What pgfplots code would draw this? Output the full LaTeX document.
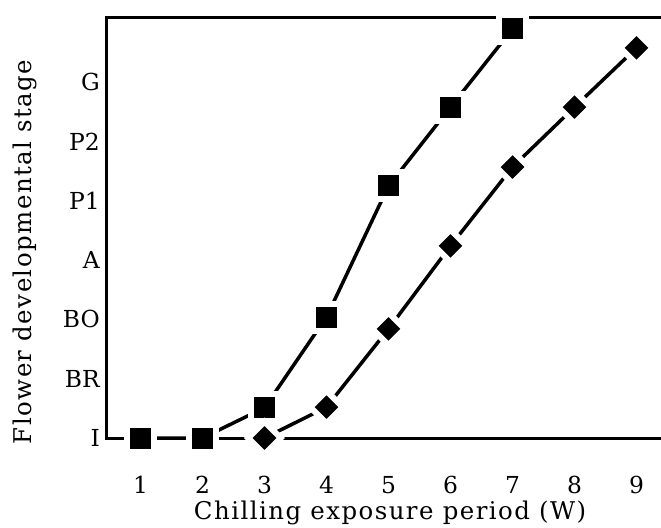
\documentclass[border=0pt]{standalone}
\usepackage{fontspec}
\setmainfont{DejaVu Serif}
\newfontfamily\labelfont[LetterSpace=6]{DejaVu Serif}
\usepackage{pgfplots}
\pgfplotsset{compat=1.18}
\begin{document}
\begin{tikzpicture}
\begin{axis}[
 at={(0,0)}, anchor=south west,
 scale only axis, width=554bp, height=421bp,
 xmin=0.46, xmax=9.395, ymin=0, ymax=7.1,
 axis line style={draw=none},
 tick style={draw=none},
 xtick={1,...,9},
 ytick={0,...,6},
 yticklabels={I,BR,BO,A,P1,P2,G},
 clip=false,
 /pgf/number format/assume math mode=true,
 tick label style={font=\fontsize{23.5}{28}\selectfont},
 label style={font=\labelfont\fontsize{24.5}{29}\selectfont},
 xticklabel style={anchor=base, yshift=-55bp},
 yticklabel style={anchor=east, inner sep=0pt, xshift=-7bp},
 xlabel={Chilling exposure period (W)},
 ylabel={Flower developmental stage},
 xlabel style={at={([yshift=-81bp]axis description cs:0.511,0)}, anchor=base},
 ylabel style={at={([xshift=-75bp]axis description cs:0,0.442)}, anchor=base},
]
\draw[line width=3bp] (rel axis cs:1,1) -- (rel axis cs:0,1) -- (rel axis cs:0,0) -- (rel axis cs:1,0);
\addplot[black, line width=3.5bp, mark=square*, mark size=13.5bp, mark options={fill=black, draw=white, line width=6bp}] coordinates {
(1,0) (2,0) (3,0.51) (4,2.04) (5,4.25) (6,5.58) (7,6.90)};
\addplot[black, line width=3.5bp, mark=square*, mark size=11.5bp, mark options={rotate=45, fill=black, draw=white, line width=6bp}] coordinates {
(3,0) (4,0.52) (5,1.84) (6,3.24) (7,4.57) (8,5.58) (9,6.58)};
\end{axis}
\pgfresetboundingbox
\path[use as bounding box] (-107bp,-90bp) rectangle (554bp,438bp);
\end{tikzpicture}
\end{document}
